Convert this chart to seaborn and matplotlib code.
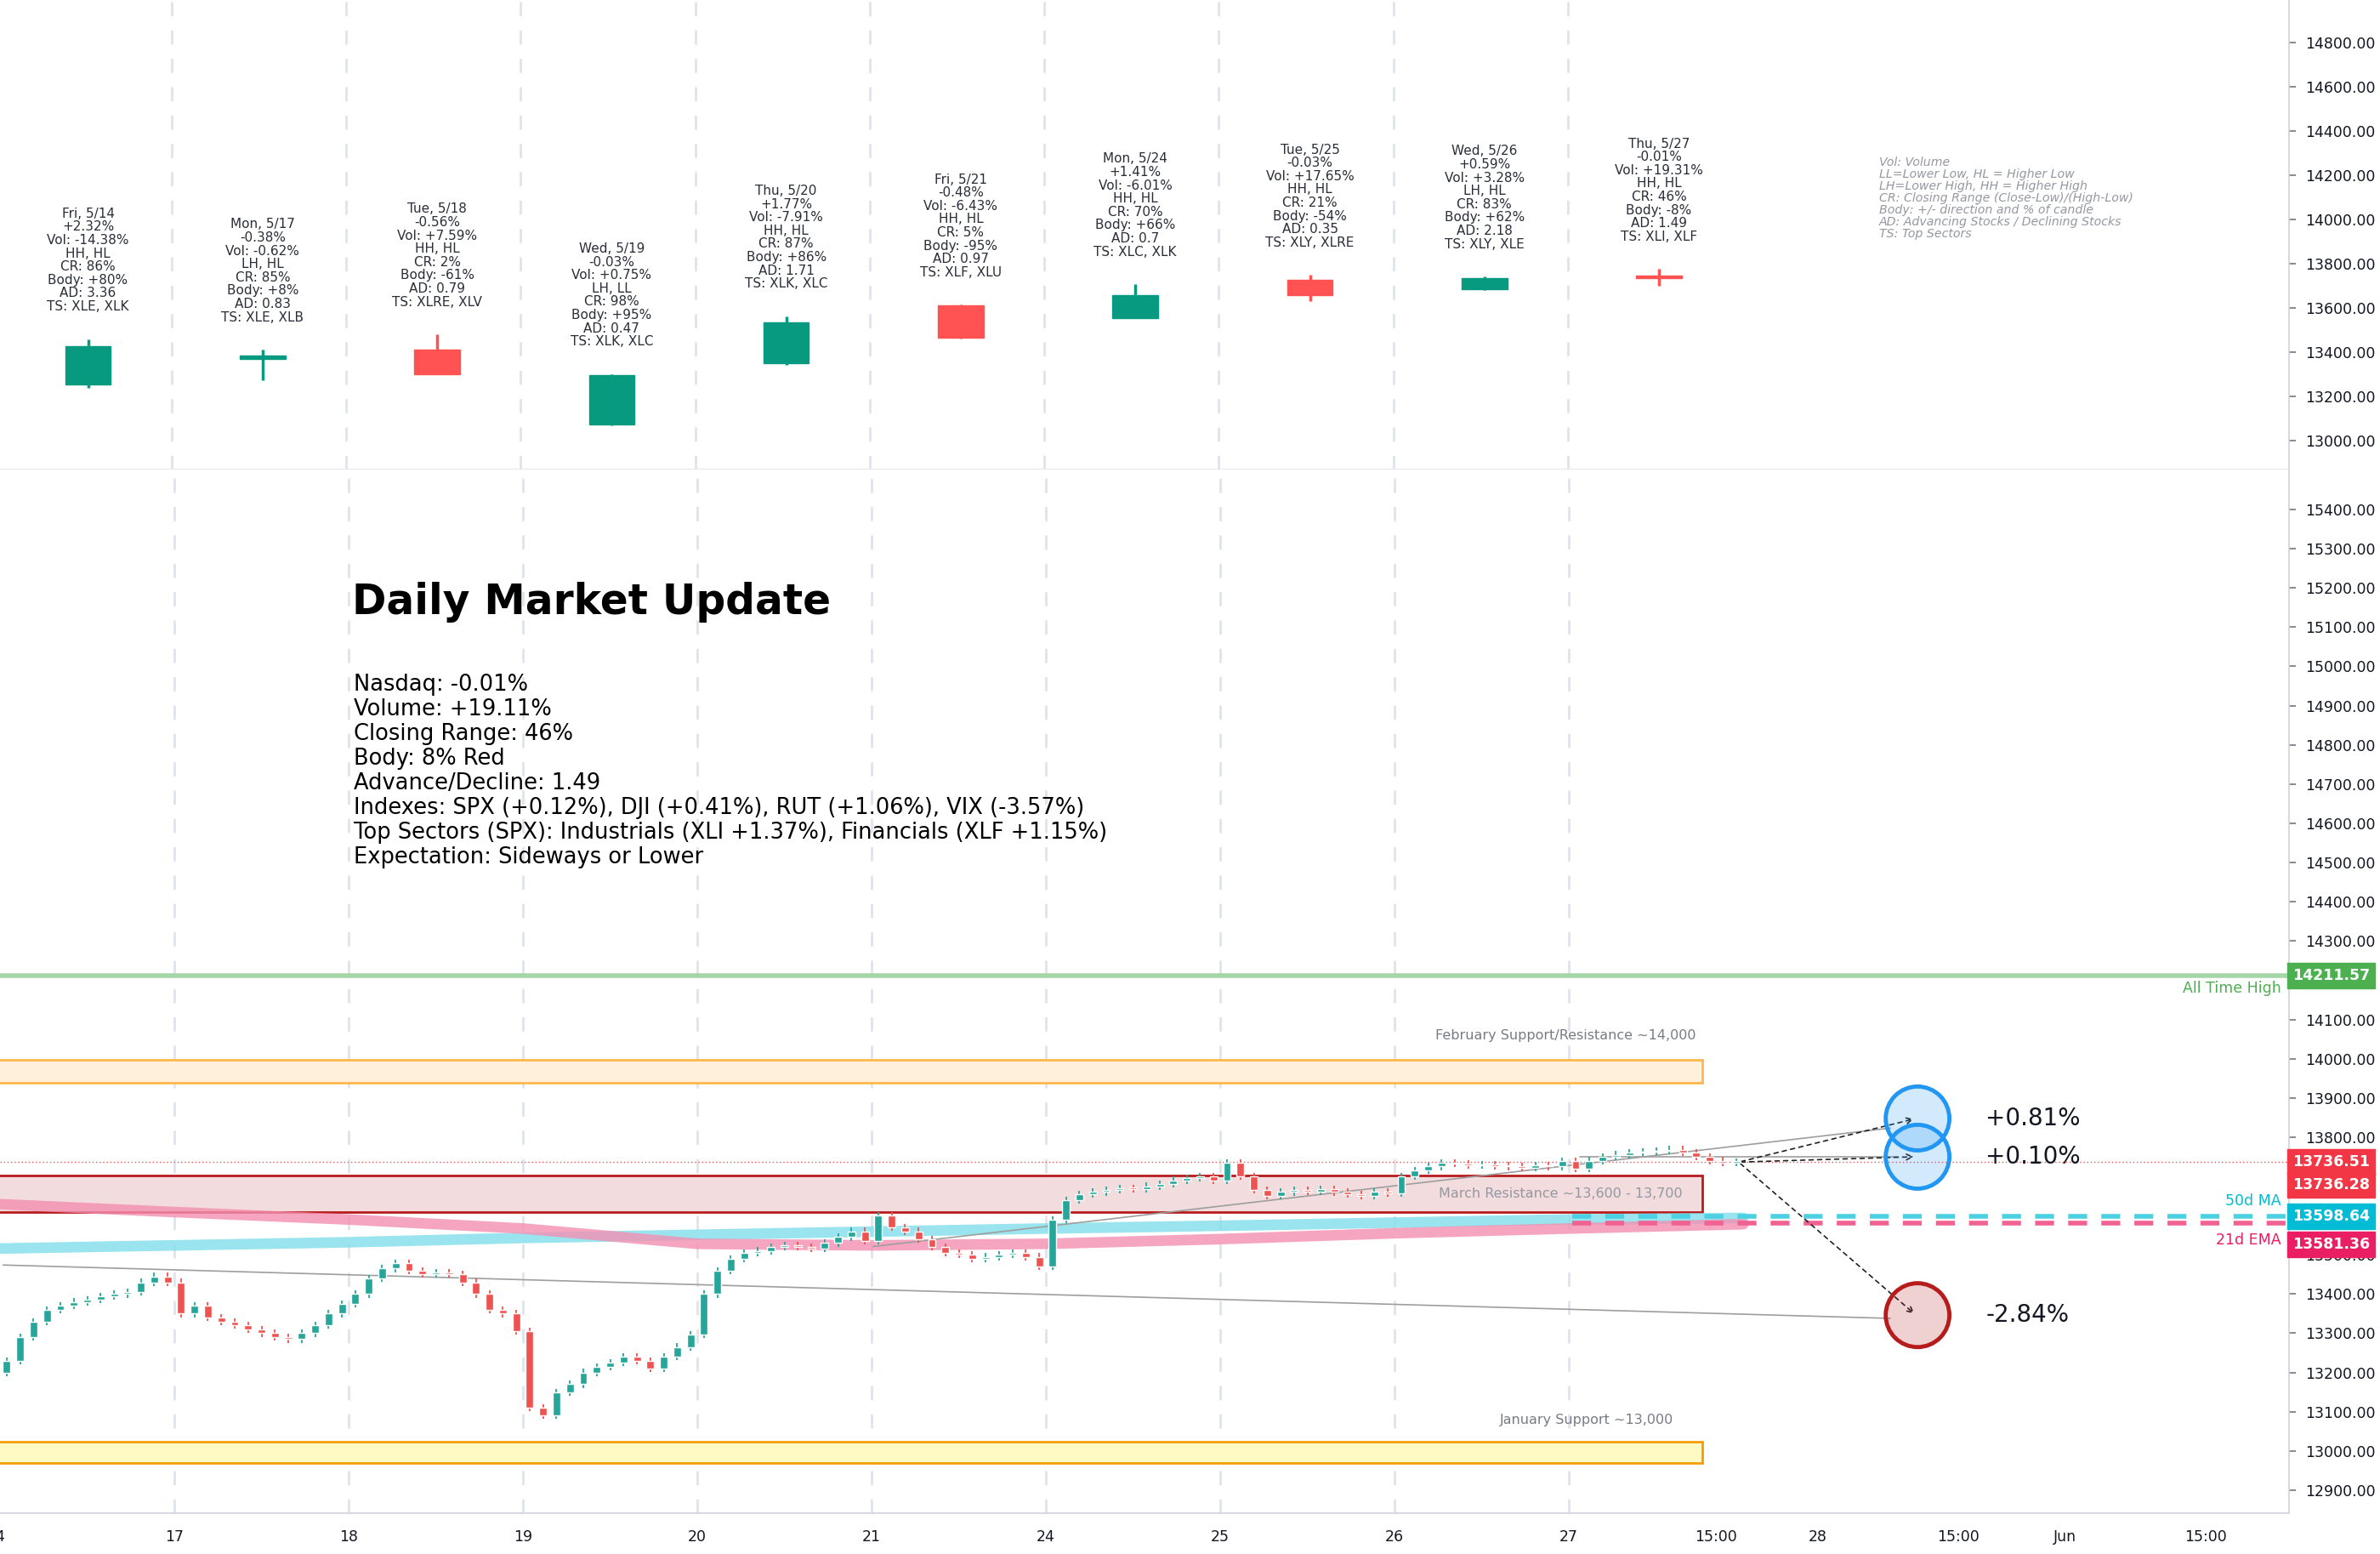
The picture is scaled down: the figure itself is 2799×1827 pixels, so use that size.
import numpy as np
import pandas as pd
import matplotlib
matplotlib.use("Agg")
import matplotlib.pyplot as plt
from matplotlib.patches import Rectangle, Ellipse
import seaborn as sns

# ---- data -------------------------------------------------------------
days = ["Fri, 5/14", "Mon, 5/17", "Tue, 5/18", "Wed, 5/19", "Thu, 5/20",
        "Fri, 5/21", "Mon, 5/24", "Tue, 5/25", "Wed, 5/26", "Thu, 5/27"]
d_open = [13254, 13372, 13412, 13076, 13350, 13611, 13556, 13728, 13687, 13738]
d_high = [13460, 13412, 13481, 13302, 13563, 13615, 13708, 13749, 13742, 13776]
d_low = [13240, 13275, 13300, 13070, 13345, 13462, 13553, 13632, 13680, 13700]
d_close = [13426, 13376, 13302, 13296, 13536, 13467, 13660, 13660, 13735, 13736]

day_notes = [
    ["+2.32%", "Vol: -14.38%", "HH, HL", "CR: 86%", "Body: +80%", "AD: 3.36", "TS: XLE, XLK"],
    ["-0.38%", "Vol: -0.62%", "LH, HL", "CR: 85%", "Body: +8%", "AD: 0.83", "TS: XLE, XLB"],
    ["-0.56%", "Vol: +7.59%", "HH, HL", "CR: 2%", "Body: -61%", "AD: 0.79", "TS: XLRE, XLV"],
    ["-0.03%", "Vol: +0.75%", "LH, LL", "CR: 98%", "Body: +95%", "AD: 0.47", "TS: XLK, XLC"],
    ["+1.77%", "Vol: -7.91%", "HH, HL", "CR: 87%", "Body: +86%", "AD: 1.71", "TS: XLK, XLC"],
    ["-0.48%", "Vol: -6.43%", "HH, HL", "CR: 5%", "Body: -95%", "AD: 0.97", "TS: XLF, XLU"],
    ["+1.41%", "Vol: -6.01%", "HH, HL", "CR: 70%", "Body: +66%", "AD: 0.7", "TS: XLC, XLK"],
    ["-0.03%", "Vol: +17.65%", "HH, HL", "CR: 21%", "Body: -54%", "AD: 0.35", "TS: XLY, XLRE"],
    ["+0.59%", "Vol: +3.28%", "LH, HL", "CR: 83%", "Body: +62%", "AD: 2.18", "TS: XLY, XLE"],
    ["-0.01%", "Vol: +19.31%", "HH, HL", "CR: 46%", "Body: -8%", "AD: 1.49", "TS: XLI, XLF"],
]

intraday_open = 13200
intraday_close = [
    [13230, 13290, 13330, 13360, 13370, 13380, 13385, 13395, 13400, 13405, 13430, 13445, 13430],
    [13350, 13370, 13340, 13330, 13320, 13310, 13300, 13290, 13285, 13300, 13320, 13350, 13375],
    [13400, 13440, 13465, 13478, 13460, 13450, 13455, 13450, 13430, 13400, 13360, 13350, 13305],
    [13110, 13090, 13150, 13170, 13200, 13215, 13225, 13240, 13230, 13210, 13240, 13265, 13296],
    [13400, 13460, 13490, 13505, 13510, 13520, 13525, 13520, 13515, 13530, 13545, 13560, 13536],
    [13600, 13570, 13560, 13540, 13520, 13505, 13500, 13490, 13495, 13500, 13505, 13495, 13470],
    [13590, 13640, 13655, 13660, 13665, 13670, 13668, 13675, 13680, 13690, 13695, 13700, 13690],
    [13735, 13700, 13665, 13650, 13660, 13665, 13662, 13668, 13660, 13655, 13650, 13660, 13657],
    [13700, 13715, 13725, 13735, 13732, 13728, 13730, 13727, 13725, 13722, 13728, 13725, 13738],
    [13720, 13740, 13750, 13755, 13760, 13763, 13765, 13768, 13760, 13750, 13740, 13735, 13736],
]

ma50 = [13516, 13524, 13532, 13543, 13551, 13559, 13567, 13574, 13582, 13590, 13594]
ema21 = [13629, 13609, 13590, 13567, 13528, 13524, 13528, 13540, 13555, 13567, 13578]

ath = 14211.57
last_price = 13736.28
ma50_last = 13598.64
ema21_last = 13581.36
targets = [13847.55, 13750.02, 13346.16]
target_labels = ["+0.81%", "+0.10%", "-2.84%"]

x_tick_labels = ["4", "17", "18", "19", "20", "21", "24", "25", "26", "27",
                 "15:00", "28", "15:00", "Jun", "15:00"]

summary = ["Nasdaq: -0.01%", "Volume: +19.11%", "Closing Range: 46%", "Body: 8% Red",
           "Advance/Decline: 1.49",
           "Indexes: SPX (+0.12%), DJI (+0.41%), RUT (+1.06%), VIX (-3.57%)",
           "Top Sectors (SPX): Industrials (XLI +1.37%), Financials (XLF +1.15%)",
           "Expectation: Sideways or Lower"]
legend_lines = ["Vol: Volume", "LL=Lower Low, HL = Higher Low", "LH=Lower High, HH = Higher High",
                "CR: Closing Range (Close-Low)/(High-Low)", "Body: +/- direction and % of candle",
                "AD: Advancing Stocks / Declining Stocks", "TS: Top Sectors"]

# ---- layout (reference pixel grid 1568 x 1022) ------------------------
W, H = 1568.0, 1022.0
DAY = 115.0
X0 = -2.0
XMAX = 1508.0
GREEN, RED = "#26a69a", "#ef5350"
DGREEN, DRED = "#089981", "#ff5252"
TXT = "#131722"

sns.set_theme(style="white")
plt.rcParams["font.family"] = "DejaVu Sans"
fig = plt.figure(figsize=(27.99, 18.27), dpi=100)


def axes_at(top, bottom):
    return fig.add_axes([0, 1 - bottom / H, XMAX / W, (bottom - top) / H])


ax_top = axes_at(0, 309)
ax = axes_at(310, 995)
for a in (ax_top, ax):
    a.set_xlim(0, XMAX)
    a.yaxis.tick_right()
    for s in ["top", "left", "bottom"]:
        a.spines[s].set_visible(False)
    a.spines["right"].set_color("#d1d4dc")
    a.tick_params(axis="y", labelsize=12.5, colors="#787b86", labelcolor=TXT, length=6, pad=8)
    a.yaxis.set_major_formatter(matplotlib.ticker.FormatStrFormatter("%.2f"))
    for d in range(1, 10):
        a.axvline(X0 + d * DAY, color="#e0e3eb", lw=2, ls=(0, (6, 6)), zorder=0)

ax_top.set_ylim(12869, 14992)
ax_top.set_yticks(np.arange(13000, 14801, 200))
ax_top.set_xticks([])
ax_top.axhline(12869, color="#e0e3eb", lw=2)

ax.set_ylim(12842, 15497)
# ticks hidden behind the price tags are left out
ax.set_yticks([v for v in np.arange(12900, 15401, 100) if v not in (13600, 13700, 14200)])

# ---- top pane: daily candles + notes ----------------------------------
for i in range(len(days)):
    xc = X0 + i * DAY + 60
    col = DGREEN if d_close[i] >= d_open[i] else DRED
    ax_top.vlines(xc, d_low[i], d_high[i], color=col, lw=2.5, zorder=3)
    lo, hi = sorted([d_open[i], d_close[i]])
    ax_top.add_patch(Rectangle((xc - 15, lo), 30, max(hi - lo, 12), color=col, zorder=4))
    ax_top.annotate("\n".join([days[i]] + day_notes[i]), (xc, d_high[i]), xytext=(0, 22),
                    textcoords="offset points", ha="center", va="bottom", fontsize=11,
                    linespacing=1.05, color="#2a2e39")

ax_top.text(1238, 14992 - 103 * 6.87, "\n".join(legend_lines), ha="left", va="top",
            fontsize=10.2, style="italic", color="#9598a1", linespacing=1.0)

# ---- bottom pane -----------------------------------------------------
bars = []
prev = intraday_open
n = len(intraday_close[0])
for d, closes in enumerate(intraday_close):
    for j, c in enumerate(closes):
        bars.append(dict(x=X0 + d * DAY + (j + 0.5) * DAY / n, o=prev, c=c))
        prev = c
bars = pd.DataFrame(bars)
bars["hi"] = bars[["o", "c"]].max(axis=1) + 9
bars["lo"] = bars[["o", "c"]].min(axis=1) - 9
cols = np.where(bars["c"] >= bars["o"], GREEN, RED)
ax.vlines(bars["x"], bars["lo"], bars["hi"], colors=cols, lw=1.3, zorder=4)
ax.bar(bars["x"], np.maximum((bars["c"] - bars["o"]).abs(), 3),
       bottom=bars[["o", "c"]].min(axis=1), width=5, color=cols, zorder=5)

# boxes
bx, box_w = -20, 1141
ax.add_patch(Rectangle((bx, 13939), box_w, 58, fc="#fff0dc", ec="#ffb74d", lw=2, zorder=1))
ax.add_patch(Rectangle((bx, 13609), box_w, 93, fc="#f2dcdd", ec="#b71c1c", lw=2, zorder=1))
ax.add_patch(Rectangle((bx, 12970), box_w, 54, fc="#fff9c4", ec="#f59d00", lw=2, zorder=1))
ax.text(1117, 14059, "February Support/Resistance ~14,000", ha="right", va="center",
        fontsize=11.5, color="#787b86")
ax.text(1108, 13656, "March Resistance ~13,600 - 13,700", ha="right", va="center",
        fontsize=11.5, color="#9598a1", zorder=6)
ax.text(1102, 13078, "January Support ~13,000", ha="right", va="center",
        fontsize=11.5, color="#787b86")

# moving averages
ma_x = [X0 + d * DAY for d in range(len(ma50))]
ma = pd.DataFrame({"x": ma_x, "ma50": ma50, "ema21": ema21})
sns.lineplot(data=ma, x="x", y="ma50", ax=ax, color="#80deea", lw=9, alpha=0.8, zorder=2)
sns.lineplot(data=ma, x="x", y="ema21", ax=ax, color="#f48fb1", lw=9, alpha=0.8, zorder=2)
ax.plot([1035, XMAX], [ma50_last] * 2, color="#4dd0e1", lw=4, ls=(0, (4, 3)), zorder=3)
ax.plot([1035, XMAX], [ema21_last] * 2, color="#f06292", lw=4, ls=(0, (4, 3)), zorder=3)
ax.set_xlabel("")
ax.set_ylabel("")

# ATH and last price
ax.axhline(ath, color="#a5d6a7", lw=4, zorder=2)
ax.axhline(last_price, color="#ef5350", lw=1, ls=(0, (1, 2)), zorder=2)
ax.text(1503, ath - 32, "All Time High", ha="right", va="center", fontsize=12.5, color="#4caf50")
ax.text(1503, ma50_last + 38, "50d MA", ha="right", va="center", fontsize=12.5, color="#00bcd4")
ax.text(1503, ema21_last - 45, "21d EMA", ha="right", va="center", fontsize=12.5, color="#e91e63")

# trend lines and projections
ax.plot([0, 1245], [13474, 13338], color="#9e9e9e", lw=1.2, zorder=3)
ax.plot([574, 1245], [13521, 13823], color="#9e9e9e", lw=1.2, zorder=3)
ax.plot([1040, 1250], [13750, 13750], color="#9e9e9e", lw=1.2, zorder=3)
x_now, x_tgt = 1145, 1262
for t in targets:
    ax.annotate("", xy=(x_tgt, t), xytext=(x_now, last_price),
                arrowprops=dict(arrowstyle="->", ls=(0, (3, 3)), color="#212121", lw=1.2))
for t, lab in zip(targets, target_labels):
    blue = t > last_price
    ax.add_patch(Ellipse((1263, t), 42, 42 * 3.876, fc="#2196f3" if blue else "#b71c1c",
                         alpha=0.2, zorder=6))
    ax.add_patch(Ellipse((1263, t), 42, 42 * 3.876, fc="none",
                         ec="#2196f3" if blue else "#b71c1c", lw=3.5, zorder=7))
    ax.text(1308, t, lab, ha="left", va="center", fontsize=20, color=TXT)

# price tags on the right axis
tags = [(ath, "#4caf50", "14211.57"), (13736.51, "#f23645", "13736.51"),
        (last_price - 58, "#f23645", "13736.28"), (ma50_last, "#00bcd4", "13598.64"),
        (ema21_last - 55, "#e91e63", "13581.36")]
for yv, c, s in tags:
    ax.text(1.0015, yv, s, transform=ax.get_yaxis_transform(), ha="left", va="center",
            fontsize=12.5, color="white", fontweight="bold", zorder=10, clip_on=False,
            bbox=dict(boxstyle="square,pad=0.35", fc=c, ec=c))

# x axis
xt = [X0 + d * DAY for d in range(10)] + [1130, 1197, 1290, 1360, 1453]
ax.set_xticks(xt)
ax.set_xticklabels(x_tick_labels, fontsize=12.5, color=TXT)
ax.tick_params(axis="x", length=6, colors="#787b86", labelcolor=TXT, pad=8)
ax.spines["bottom"].set_visible(True)
ax.spines["bottom"].set_color("#d1d4dc")

# summary text
fig.text(232 / W, 1 - 396 / H, "Daily Market Update", fontsize=35, fontweight="bold",
         color="black", va="center", ha="left")
fig.text(233 / W, 1 - 443 / H, "\n".join(summary), fontsize=18.5, color="black",
         va="top", ha="left", linespacing=1.15)

fig.savefig("out.png", dpi=100, facecolor="white")
